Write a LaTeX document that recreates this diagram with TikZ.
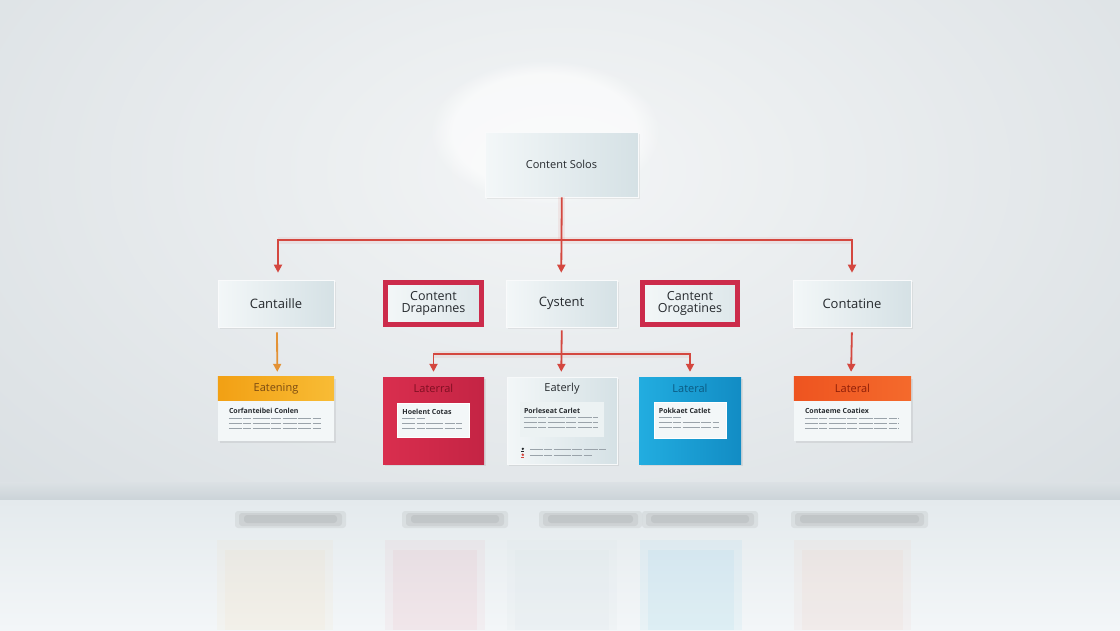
\documentclass[tikz,border=0pt]{standalone}
\usepackage{fontspec}
\setmainfont{Open Sans}
\usetikzlibrary{arrows.meta,shadows,calc,fadings}
\definecolor{wallin}{HTML}{F3F5F6}
\definecolor{wallout}{HTML}{D6DCE0}
\definecolor{horizon}{HTML}{CBD3D8}
\definecolor{floortop}{HTML}{E4EAED}
\definecolor{floorbot}{HTML}{F3F6F8}
\definecolor{linkred}{HTML}{D4473F}
\definecolor{linkorange}{HTML}{E39236}
\definecolor{boxlight}{HTML}{F3F7F8}
\definecolor{boxdark}{HTML}{D5E1E5}
\definecolor{frame}{HTML}{CC2B4B}
\definecolor{redcard}{HTML}{D92E4E}
\definecolor{redcarddark}{HTML}{C42444}
\definecolor{bluecard}{HTML}{22ADE0}
\definecolor{bluecarddark}{HTML}{128CC4}
\definecolor{hdrorange}{HTML}{F2A014}
\definecolor{hdrorange2}{HTML}{F8BC35}
\definecolor{hdrred}{HTML}{EE5420}
\definecolor{hdrred2}{HTML}{F46A2C}
\definecolor{txtgray}{HTML}{9AA3AA}
\definecolor{ink}{HTML}{262A2E}
\definecolor{titlebrown}{HTML}{7A4A12}
\definecolor{titlered}{HTML}{7E0F22}
\definecolor{titleblue}{HTML}{0B5A82}
\definecolor{titlerust}{HTML}{8E1E08}
\begin{document}
\begin{tikzpicture}[x=1pt,y=-1pt,
  lightbox/.style={draw=white!85!boxdark, line width=0.6pt, left color=boxlight, right color=boxdark,
    drop shadow={shadow xshift=1.5pt, shadow yshift=-2pt, opacity=0.12},
    font=\fontsize{13}{15}\selectfont, text=ink, align=center, inner sep=0pt},
  framebox/.style={draw=frame, line width=4.5pt, left color=boxlight, right color=boxdark!80!white,
    drop shadow={shadow xshift=1.5pt, shadow yshift=-2pt, opacity=0.12},
    font=\fontsize{12.5}{14}\selectfont, text=ink, align=center, inner sep=0pt},
  card/.style={inner sep=0pt, drop shadow={shadow xshift=1.5pt, shadow yshift=-2pt, opacity=0.15}},
  ctitle/.style={font=\fontsize{11}{13}\selectfont, inner sep=0pt},
  cbold/.style={font=\bfseries\fontsize{7}{8}\selectfont, text=ink, inner sep=0pt, anchor=west},
  txtline/.style={draw=txtgray, line width=1.1pt,
    dash pattern=on 13pt off 1.5pt on 8pt off 1.5pt on 17pt off 1.5pt on 10pt off 1.5pt on 14pt off 1.5pt},
  inset/.style={inner sep=0pt, draw=white, line width=0.6pt, fill=#1},
  link/.style={draw=linkred, line width=1.8pt, -{Triangle[width=8pt,length=8pt]}, shorten >=5pt},
  linkor/.style={draw=linkorange, line width=1.8pt, -{Triangle[width=8pt,length=8pt]}, shorten >=5pt, shorten <=5pt},
  halo/.style={draw=linkred, line width=7pt, opacity=0.08},
  shadowfloor/.style={fill=black, opacity=0.055, rounded corners=3pt}
]
\useasboundingbox (0,0) rectangle (1120,630);
% ---------- background wall ----------
\fill[wallout] (0,0) rectangle (1120,500);
\begin{scope}
  \clip (0,0) rectangle (1120,500);
  \shade[inner color=wallin, outer color=wallout] (-340,-380) rectangle (1460,720);
  \fill[white, path fading=circle with fuzzy edge 20 percent, opacity=0.6] (545,132) ellipse (115 and 72);
\end{scope}
% ---------- horizon and floor ----------
\shade[top color=wallout!85!white, bottom color=horizon] (0,482) rectangle (1120,500);
\shade[top color=floortop, bottom color=floorbot] (0,500) rectangle (1120,630);
\foreach \a/\b in {241/340, 408/502, 545/636, 648/752, 797/922}{
  \fill[shadowfloor] (\a-6,511) rectangle (\b+6,528);
  \fill[shadowfloor] (\a-2,513) rectangle (\b+2,526);
  \fill[shadowfloor] (\a+3,515) rectangle (\b-3,523);
}
% faint reflections
\foreach \a/\b/\c/\o in {217/333/hdrorange/0.03, 385/485/redcard/0.04, 507/617/boxdark/0.12, 640/742/bluecard/0.05, 794/911/hdrred/0.03}{
  \fill[\c, opacity=\o] (\a,540) rectangle (\b,630);
  \fill[\c, opacity=\o] (\a+8,550) rectangle (\b-8,630);
}
% ---------- top node ----------
\node[lightbox, minimum width=153pt, minimum height=65pt, font=\fontsize{11}{13}\selectfont] (top) at (561.5,164.5) {Content Solos};
% ---------- second row ----------
\node[lightbox, minimum width=116pt, minimum height=47pt] (cantaille) at (276,303.5) {Cantaille};
\node[framebox, minimum width=96pt, minimum height=42pt] (drap) at (433.5,303.5) {Content\\[-2pt]Drapannes};
\node[lightbox, minimum width=111pt, minimum height=47pt] (cystent) at (561.5,303.5) {Cystent};
\node[framebox, minimum width=95pt, minimum height=42pt] (orog) at (690,303.5) {Cantent\\[-2pt]Orogatines};
\node[lightbox, minimum width=118pt, minimum height=47pt] (contatine) at (852,303.5) {Contatine};
% ---------- third row ----------
% Eatening (orange header)
\node[card, fill=boxlight, minimum width=116pt, minimum height=64pt] (eat) at (276,409) {};
\shade[left color=hdrorange, right color=hdrorange2] (eat.north west) rectangle ($(eat.north east)+(0,24)$);
\node[ctitle, text=titlebrown] (eatT) at ($(eat.north)+(0,12)$) {Eatening};
\node[cbold] (eatB) at ($(eat.north west)+(11,34)$) {Corfanteibei Conlen};
\foreach \yy in {42,47,52} \draw[txtline] ($(eat.north west)+(11,\yy)$) -- ++(93,0);
% Laterral (red card)
\node[card, left color=redcard, right color=redcarddark, minimum width=101pt, minimum height=87pt] (redc) at (433.5,420.5) {};
\node[ctitle, text=titlered] (redT) at ($(redc.north)+(0,12)$) {Laterral};
\node[inset=boxlight, minimum width=72pt, minimum height=34pt] (redI) at ($(redc.north)+(0,43)$) {};
\node[cbold] (redB) at ($(redI.north west)+(5,9)$) {Hoelent Cotas};
\draw[txtline] ($(redI.north west)+(5,16)$) -- ++(24,0);
\foreach \yy in {21,26} \draw[txtline] ($(redI.north west)+(5,\yy)$) -- ++(60,0);
% Eaterly (light card)
\node[card, left color=boxlight, right color=boxdark, draw=white!80!boxdark, minimum width=110pt, minimum height=87pt] (eaterly) at (562,420.5) {};
\node[ctitle, text=ink] (eatlyT) at ($(eaterly.north)+(0,12)$) {Eaterly};
\node[inner sep=0pt, fill=boxdark!45!white, minimum width=84pt, minimum height=35pt] (eatlyI) at ($(eaterly.north)+(0,42.5)$) {};
\node[cbold] (eatlyB) at ($(eatlyI.north west)+(4,9)$) {Porleseat Carlet};
\foreach \yy in {16,21,26} \draw[txtline] ($(eatlyI.north west)+(4,\yy)$) -- ++(74,0);
\fill[ink] ($(eaterly.north west)+(16,72)$) circle (1.3pt);
\fill[ink] ($(eaterly.north west)+(14.5,74.2)$) rectangle ++(3,1.4);
\fill[linkred] ($(eaterly.north west)+(16,78)$) circle (1.4pt);
\fill[linkred] ($(eaterly.north west)+(14.5,80.2)$) rectangle ++(3,1.3);
\draw[txtline] ($(eaterly.north west)+(23,73)$) -- ++(76,0);
\draw[txtline] ($(eaterly.north west)+(23,79)$) -- ++(62,0);
% Lateral (blue card)
\node[card, left color=bluecard, right color=bluecarddark, minimum width=102pt, minimum height=87pt] (bluec) at (690,420.5) {};
\node[ctitle, text=titleblue] (blueT) at ($(bluec.north)+(0,12)$) {Lateral};
\node[inset=boxlight, minimum width=72pt, minimum height=36pt] (blueI) at ($(bluec.north)+(0,43)$) {};
\node[cbold] (blueB) at ($(blueI.north west)+(5,9)$) {Pokkaet Catlet};
\draw[txtline] ($(blueI.north west)+(5,16)$) -- ++(22,0);
\foreach \yy in {21,26} \draw[txtline] ($(blueI.north west)+(5,\yy)$) -- ++(60,0);
% Lateral (orange-red header)
\node[card, fill=boxlight, minimum width=117pt, minimum height=64pt] (latr) at (852.5,409) {};
\shade[left color=hdrred, right color=hdrred2] (latr.north west) rectangle ($(latr.north east)+(0,24)$);
\node[ctitle, text=titlerust] (latrT) at ($(latr.north)+(0,12)$) {Lateral};
\node[cbold] (latrB) at ($(latr.north west)+(11,34)$) {Contaeme Coatiex};
\foreach \yy in {42,47,52} \draw[txtline] ($(latr.north west)+(11,\yy)$) -- ++(94,0);
% ---------- connectors ----------
\coordinate (j1) at ($(top.south)+(0,43)$);
\coordinate (j2) at ($(cystent.south)+(0,27)$);
% soft halo under the red connectors
\draw[halo] (top.south) -- (j1);
\draw[halo] ([xshift=2pt]cantaille.north |- j1) -- (contatine.north |- j1);
\draw[halo] (redc.north |- j2) -- (bluec.north |- j2);
% arrows
\draw[link, shorten >=7pt] ([xshift=0.3pt]top.south) -- ([xshift=-0.3pt]cystent.north);
\draw[link, shorten >=7pt] (j1) -| ([xshift=2pt]cantaille.north);
\draw[link, shorten >=7pt] (j1) -| (contatine.north);
\draw[linkor] ([xshift=1pt]cantaille.south) -- ([xshift=1.3pt]eat.north);
\draw[link, shorten <=5pt] (contatine.south) -- ([xshift=-1.5pt]latr.north);
\draw[link, shorten <=3pt] ([xshift=0.3pt]cystent.south) -- ([xshift=-0.3pt]cystent.south |- eaterly.north);
\draw[link] (j2) -| (redc.north);
\draw[link] (j2) -| (bluec.north);
\end{tikzpicture}
\end{document}
